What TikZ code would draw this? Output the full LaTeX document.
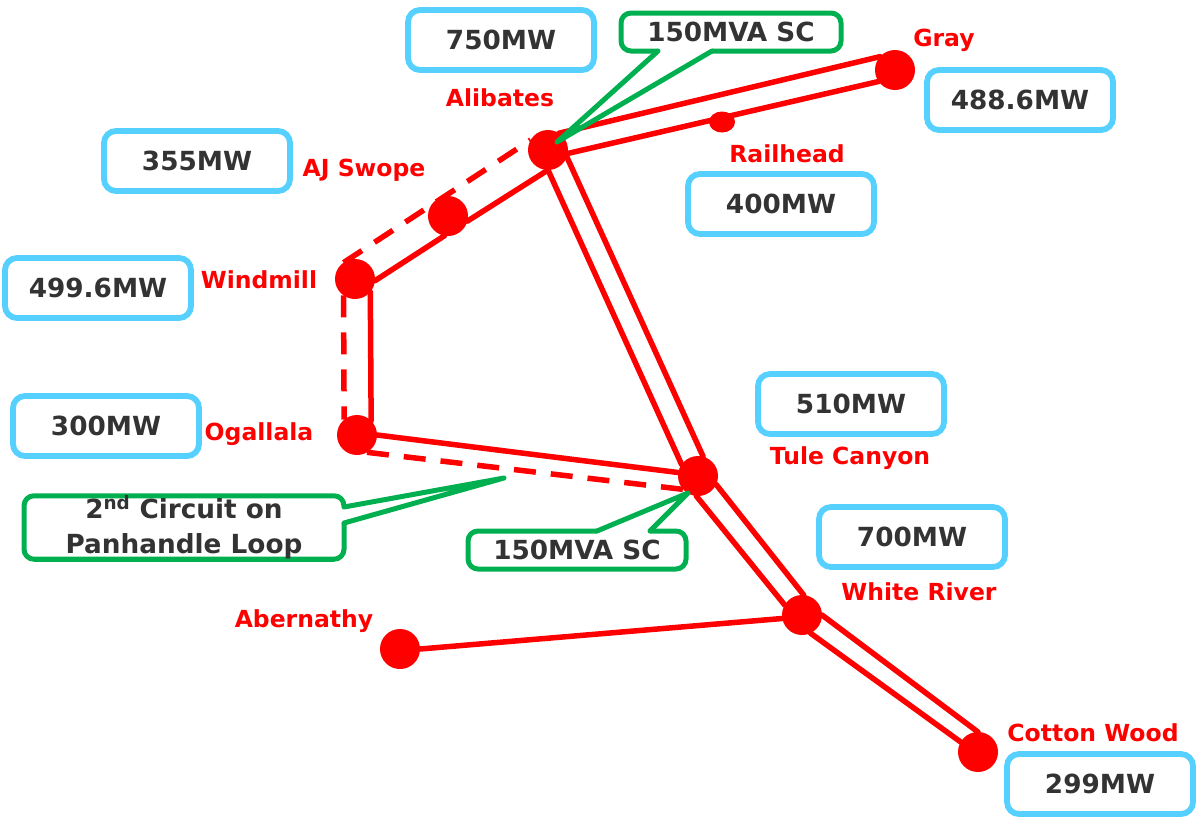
\documentclass[tikz,border=0pt]{standalone}
\usepackage{fontspec}
\usetikzlibrary{shapes.geometric}
\setmainfont{DejaVu Sans}
\definecolor{mwblue}{HTML}{55D0FF}
\definecolor{scgreen}{HTML}{00B050}
\definecolor{mwtext}{HTML}{333333}
\tikzset{
  bus/.style={circle,fill=red,inner sep=0pt,outer sep=0pt,minimum size=40pt},
  line/.style={red,line width=5.5pt,line cap=round},
  line2/.style={red,line width=5.5pt,dash pattern=on 22pt off 15pt},
  busname/.style={red,text height=17pt,text depth=0pt,font=\bfseries\fontsize{23.5}{28}\selectfont},
  mwbox/.style={draw=mwblue,line width=5.8pt,rounded corners=12pt,fill=white,text=mwtext,inner sep=0pt,
    minimum width=186pt,minimum height=60pt,font=\bfseries\fontsize{26.3}{32}\selectfont},
  scbox/.style={draw=scgreen,line width=5pt,rounded corners=10pt,text=mwtext,inner sep=0pt,
    font=\bfseries\fontsize{26.3}{35}\selectfont},
  scline/.style={scgreen,line width=5pt,line cap=round,line join=round},
  scgap/.style={white,line width=7pt}
}
\begin{document}
\begin{tikzpicture}[x=1pt,y=-1pt]
\useasboundingbox (0,0) rectangle (1200,822);
\node[bus] (alibates) at (548,150){};
\node[bus] (swope) at (448,216){};
\node[bus] (windmill) at (355,279){};
\node[bus] (ogallala) at (357,435){};
\node[bus] (tule) at (698,476){};
\node[bus] (white) at (802,615){};
\node[bus] (cotton) at (978,752){};
\node[bus] (abernathy) at (400,649){};
\node[bus] (gray) at (895,70){};
\node[fill=red,ellipse,inner sep=0pt,minimum width=26pt,minimum height=21pt] (railhead) at (722,122){};
\draw[line](alibates.57)--(gray.138);
\draw[line](alibates.-10)--(gray.215);
\draw[line](alibates.-90)--(tule.145);
\draw[line](alibates.-20)--(tule.75);
\draw[line](tule.-95)--(white.150);
\draw[line](tule.-25)--(white.85);
\draw[line](white.0)--(cotton.90);
\draw[line](white.-65)--(cotton.150);
\draw[line](abernathy.0)--(white.190);
\draw[line](ogallala.0)--(tule.170);
\draw[line](windmill.-5)--(swope.-100);
\draw[line](swope.-15)--(alibates.-90);
\draw[line](windmill.-40)--(ogallala.45);
\draw[line2](windmill.125)--(alibates.150);
\draw[line2](windmill.-125)--(ogallala.130);
\draw[line2](ogallala.-60)--(tule.222);
\node[busname] (alibatesname) at (500,98){Alibates};
\node[busname] (grayname) at (944,38){Gray};
\node[busname] (railheadname) at (787,154){Railhead};
\node[busname] (swopename) at (364,168){AJ Swope};
\node[busname] (windmillname) at (259,280){Windmill};
\node[busname] (ogallalaname) at (259,432){Ogallala};
\node[busname] (tulename) at (850,456){Tule Canyon};
\node[busname] (whitename) at (919,592){White River};
\node[busname] (abernathyname) at (304,619){Abernathy};
\node[busname] (cottonname) at (1093,733){Cotton Wood};
\node[mwbox] (alibatesmw) at (501,40){750MW};
\node[mwbox] (swopemw) at (197,161){355MW};
\node[mwbox] (windmillmw) at (98,288){499.6MW};
\node[mwbox] (ogallalamw) at (106,426){300MW};
\node[mwbox] (graymw) at (1020,100){488.6MW};
\node[mwbox] (railheadmw) at (781,204){400MW};
\node[mwbox] (tulemw) at (851,404){510MW};
\node[mwbox] (whitemw) at (912,537){700MW};
\node[mwbox] (cottonmw) at (1100,784){299MW};
% callouts
\node[scbox,minimum width=220pt,minimum height=38pt] (sctop) at (731,32){150MVA SC};
\coordinate (sctopa) at (658,51);
\coordinate (sctopb) at (712,51);
\coordinate (sctoptip) at (557,142);
\draw[scgap](sctopa)--(sctopb);
\draw[scline](sctopa)--(sctoptip)--(sctopb);
\node[scbox,minimum width=218pt,minimum height=38pt] (scbot) at (577,550){150MVA SC};
\coordinate (scbota) at (597,531);
\coordinate (scbotb) at (650,531);
\coordinate (scbottip) at (688,493);
\draw[scgap](scbota)--(scbotb);
\draw[scline](scbota)--(scbottip)--(scbotb);
\node[scbox,align=center,minimum width=320pt,minimum height=61pt] (loop) at (184,527.5){2\textsuperscript{nd} Circuit on\\Panhandle Loop};
\coordinate (loopa) at (344,507);
\coordinate (loopb) at (344,523);
\coordinate (looptip) at (504,478);
\draw[scgap](loopa)--(loopb);
\draw[scline](loopa)--(looptip)--(loopb);
\end{tikzpicture}
\end{document}
